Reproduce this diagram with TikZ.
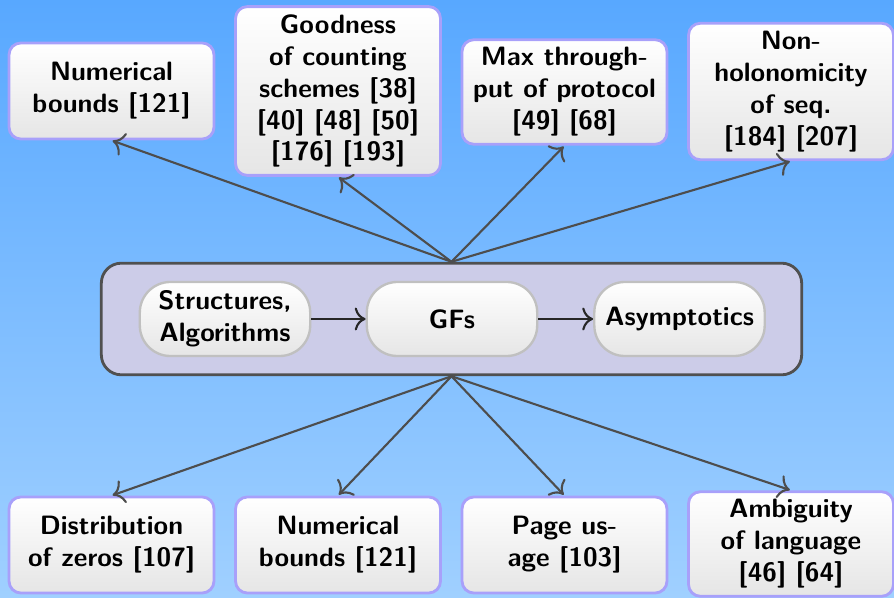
\documentclass[tikz,border=0pt]{standalone}
\usepackage{fontspec}
\usetikzlibrary{calc,arrows.meta}

\definecolor{bgtop}{RGB}{88,168,255}
\definecolor{bgbottom}{RGB}{160,208,255}
\definecolor{boxedge}{RGB}{168,160,250}
\definecolor{linkgray}{RGB}{77,77,77}
\definecolor{corefill}{RGB}{204,204,232}
\definecolor{coreedge}{RGB}{80,80,80}
\definecolor{stageedge}{RGB}{192,192,192}

\tikzset{
  labelfont/.style={font=\sffamily\bfseries\fontsize{11.3}{13.6}\selectfont, text=black},
  topicbox/.style={labelfont, draw=boxedge, line width=1.2pt, rounded corners=5pt,
    top color=white, bottom color=black!10, align=center,
    minimum width=87.2pt, minimum height=40.85pt, inner xsep=2pt, inner ysep=3.3pt},
  corebox/.style={draw=coreedge, fill=corefill, line width=1.2pt, rounded corners=8.5pt,
    minimum width=298pt, minimum height=47.5pt},
  stagebox/.style={labelfont, draw=stageedge, line width=1pt, rounded corners=13pt,
    top color=white, bottom color=black!10, align=center,
    minimum width=72.5pt, minimum height=31.5pt, inner sep=2pt},
  link/.style={draw=linkgray, line width=0.9pt, -{To[scale=1.35]}, shorten >=0.5pt},
  flow/.style={draw=black!85, line width=0.9pt, -{To[scale=1.3]}}
}

\begin{document}
\begin{tikzpicture}[x=0.4255pt, y=-0.4255pt]
  \useasboundingbox (0,0) rectangle (894,598);
  \shade[top color=bgtop, bottom color=bgbottom] (0,0) rectangle (894,598);

  % central pipeline
  \node[corebox] (core) at (451.5,319) {};
  \node[stagebox] (struct) at (225,319) {Structures,\\Algorithms};
  \node[stagebox] (gf) at (452,319) {GFs};
  \node[stagebox] (asym) at (679.5,319) {Asymptotics};
  \draw[flow] (struct) -- (gf);
  \draw[flow] (gf) -- (asym);

  % upper topics
  \node[topicbox] (t1) at (111.5,91) {Numerical\\bounds [121]};
  \node[topicbox] (t2) at (338,91) {Goodness\\of counting\\schemes [38]\\{}[40] [48] [50]\\{}[176] [193]};
  \node[topicbox] (t3) at (564.5,92) {Max through-\\put of protocol\\{}[49] [68]};
  \node[topicbox] (t4) at (791,91.5) {Non-\\holonomicity\\of seq.\\{}[184] [207]};

  % lower topics
  \node[topicbox] (u1) at (111.5,545) {Distribution\\of zeros [107]};
  \node[topicbox] (u2) at (338,545) {Numerical\\bounds [121]};
  \node[topicbox] (u3) at (564.5,545) {Page us-\\age [103]};
  \node[topicbox] (u4) at (791,544) {Ambiguity\\of language\\{}[46] [64]};

  \foreach \n in {t1,t2,t3,t4} \draw[link] (core.north) -- (\n.south);
  \foreach \n in {u1,u2,u3,u4} \draw[link] (core.south) -- (\n.north);
\end{tikzpicture}
\end{document}
